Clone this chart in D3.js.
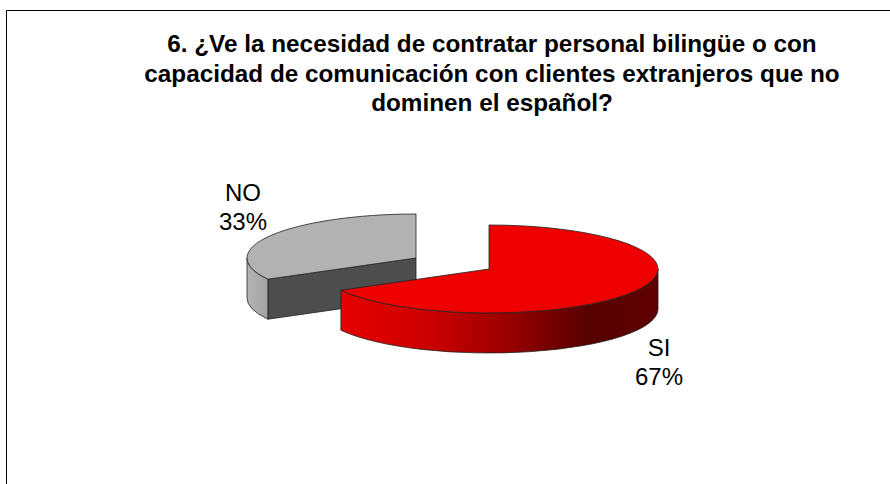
<!DOCTYPE html>
<html>
<head>
<meta charset="utf-8">
<script src="https://cdn.jsdelivr.net/npm/d3@7"></script>
<style>
  html, body { margin: 0; padding: 0; background: #fff; }
  svg { display: block; }
  text { font-family: "Liberation Sans", Arial, sans-serif; fill: #000; }
</style>
</head>
<body>
<svg id="chart" width="890" height="484"></svg>
<script>
const categories = ['SI', 'NO'];
const values = [67, 33];
const titleLines = [
  '6. ¿Ve la necesidad de contratar personal bilingüe o con',
  'capacidad de comunicación con clientes extranjeros que no',
  'dominen el español?'
];

const svg = d3.select('#chart');

// frame, only top and left are visible in the crop
svg.append('path')
  .attr('d', 'M6.5,484V10.5H890')
  .attr('fill', 'none')
  .attr('stroke', '#000')
  .attr('stroke-width', 1);

svg.append('g').selectAll('text')
  .data(titleLines)
  .enter()
  .append('text')
  .attr('x', 492)
  .attr('y', (d, i) => 52 + i * 29.5)
  .attr('text-anchor', 'middle')
  .style('font-size', '24.3px')
  .style('font-weight', 'bold')
  .text(d => d);

const rx = 169, ry = 44, depth = 40;
const centers = { SI: [489, 269], NO: [416, 258] };

const defs = svg.append('defs');

const redGrad = defs.append('linearGradient')
  .attr('id', 'redWall')
  .attr('gradientUnits', 'userSpaceOnUse')
  .attr('x1', 340).attr('x2', 658).attr('y1', 0).attr('y2', 0);
[[0, '#e60000'], [0.25, '#d00000'], [0.5, '#a00000'], [0.78, '#560000'], [1, '#600000']]
  .forEach(s => redGrad.append('stop').attr('offset', s[0]).attr('stop-color', s[1]));

const grayGrad = defs.append('linearGradient')
  .attr('id', 'grayWall')
  .attr('gradientUnits', 'userSpaceOnUse')
  .attr('x1', 247).attr('x2', 268).attr('y1', 0).attr('y2', 0);
[[0, '#b4b4b4'], [1, '#a2a2a2']]
  .forEach(s => grayGrad.append('stop').attr('offset', s[0]).attr('stop-color', s[1]));

const pie = d3.pie().sort(null).startAngle(0).endAngle(2 * Math.PI);
const slices = pie(values).map((d, i) => ({ ...d, name: categories[i] }));

// angle is measured clockwise from 12 o'clock, like d3.pie
function pt(c, a, dy = 0) {
  return [c[0] + rx * Math.sin(a), c[1] - ry * Math.cos(a) + dy];
}

function topPath(d) {
  const c = centers[d.name];
  const a = pt(c, d.startAngle), b = pt(c, d.endAngle);
  const large = d.endAngle - d.startAngle > Math.PI ? 1 : 0;
  return `M${c}L${a}A${rx},${ry} 0 ${large} 1 ${b}Z`;
}

function wallPath(c, a0, a1) {
  const a = pt(c, a0), b = pt(c, a1);
  const b2 = pt(c, a1, depth), a2 = pt(c, a0, depth);
  return `M${a}A${rx},${ry} 0 0 1 ${b}L${b2}A${rx},${ry} 0 0 0 ${a2}Z`;
}

const edge = { stroke: '#222', 'stroke-width': 0.8, 'stroke-linejoin': 'round' };
function draw(d, fill) {
  const el = svg.append('path').attr('d', d).attr('fill', fill);
  Object.keys(edge).forEach(k => el.attr(k, edge[k]));
  return el;
}

const si = slices.find(d => d.name === 'SI');
const no = slices.find(d => d.name === 'NO');

// NO slice sits behind
const cNo = centers.NO;
const noEdge = pt(cNo, no.startAngle);
draw(`M${cNo}L${noEdge}L${pt(cNo, no.startAngle, depth)}L${[cNo[0], cNo[1] + depth]}Z`, '#4d4d4d');
draw(wallPath(cNo, no.startAngle, 1.5 * Math.PI), 'url(#grayWall)');
draw(topPath(no), '#b2b2b2');

// SI slice in front, wall runs from 3 o'clock round to where the cut starts
const cSi = centers.SI;
draw(wallPath(cSi, 0.5 * Math.PI, si.endAngle), 'url(#redWall)');
draw(topPath(si), '#ee0000');

const labels = [
  { name: 'NO', x: 243, y: 201 },
  { name: 'SI', x: 659, y: 356 }
];
labels.forEach(l => {
  const v = values[categories.indexOf(l.name)];
  const t = svg.append('text')
    .attr('text-anchor', 'middle')
    .style('font-size', '24px');
  t.append('tspan').attr('x', l.x).attr('y', l.y).text(l.name);
  t.append('tspan').attr('x', l.x).attr('y', l.y + 29).text(v + '%');
});
</script>
</body>
</html>
